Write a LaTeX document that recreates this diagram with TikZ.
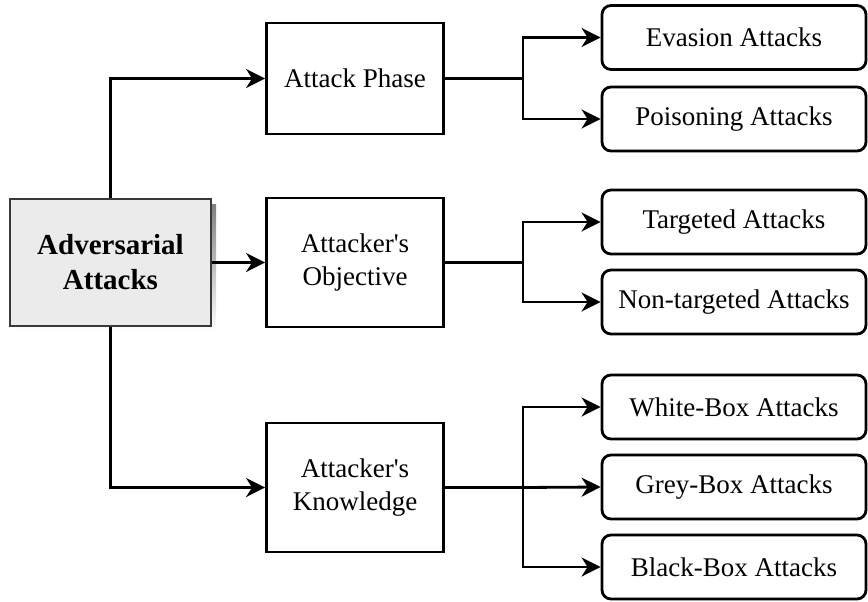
\documentclass[tikz,border=0pt]{standalone}
\usepackage{fontspec}
\setmainfont{Liberation Serif}
\usetikzlibrary{arrows.meta}
\definecolor{rootfill}{HTML}{EBEBEB}
\definecolor{rootline}{HTML}{36393D}
\definecolor{shade}{HTML}{BDBDBD}
\begin{document}
\begin{tikzpicture}[x=1pt,y=-1pt,
  base/.style={draw=black,line width=2.8pt,align=center,inner sep=0pt,
    font=\fontsize{27}{33.5}\selectfont},
  rootbox/.style={base,draw=rootline,fill=rootfill,minimum width=201pt,minimum height=127pt,
    font=\fontsize{29}{35}\selectfont\bfseries},
  midbox/.style={base,minimum width=177pt},
  leafbox/.style={base,rounded corners=9pt,minimum width=264pt,minimum height=64pt},
  arr/.style={line width=2.8pt,-{Stealth[length=19pt,width=19pt,inset=6pt]}},
  link/.style={line width=2.8pt}]
\useasboundingbox (0,0) rectangle (868,602);

% root with its drop shadow
\fill[shade] (15,204) rectangle (216,331);
\node[rootbox] (root) at (110.5,262.5) {Adversarial\\Attacks};

% categories
\node[midbox,minimum height=111pt] (phase) at (355,78.5) {Attack Phase};
\node[midbox,minimum height=129pt] (objective) at (355,262.5) {Attacker\textquotesingle s\\Objective};
\node[midbox,minimum height=129pt] (knowledge) at (355,487.5) {Attacker\textquotesingle s\\Knowledge};

% leaves
\node[leafbox] (evasion) at (734,37.5) {Evasion Attacks};
\node[leafbox] (poisoning) at (734,119) {Poisoning Attacks};
\node[leafbox] (targeted) at (734,222) {Targeted Attacks};
\node[leafbox] (nontargeted) at (734,302) {Non-targeted Attacks};
\node[leafbox] (white) at (734,407) {White-Box Attacks};
\node[leafbox] (grey) at (734,487) {Grey-Box Attacks};
\node[leafbox] (black) at (734,567) {Black-Box Attacks};

% branch points
\coordinate (b1) at (523,78.5);
\coordinate (b2) at (523,262.5);
\coordinate (b3) at (523,487.5);

% root to categories
\draw[arr] (root.north) |- (phase.west);
\draw[arr] (root.east) -- (objective.west);
\draw[arr] (root.south) |- (knowledge.west);

% categories to leaves
\draw[link] (phase.east) -- (b1);
\draw[arr] (b1) |- (evasion.west);
\draw[arr] (b1) |- (poisoning.west);
\draw[link] (objective.east) -- (b2);
\draw[arr] (b2) |- (targeted.west);
\draw[arr] (b2) |- (nontargeted.west);
\draw[link] (knowledge.east) -- (b3);
\draw[arr] (b3) |- (white.west);
\draw[arr] (b3) -- (grey.west);
\draw[arr] (b3) |- (black.west);
\end{tikzpicture}
\end{document}
